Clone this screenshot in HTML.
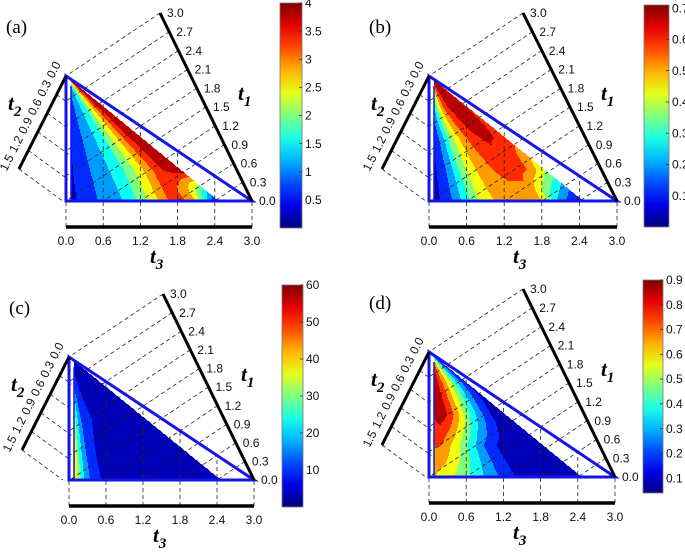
<!DOCTYPE html>
<html><head><meta charset="utf-8"><style>
html,body{margin:0;padding:0;background:#fff;}
svg{display:block;}
.tk{font-family:"Liberation Sans",Arial,sans-serif;font-size:12px;fill:#111;}
.ttl{font-family:"Liberation Serif",serif;font-size:21px;font-weight:bold;font-style:italic;fill:#000;}
.sub{font-size:15px;}
.pl{font-family:"Liberation Serif",serif;font-size:19px;fill:#000;}
</style></head><body>
<svg id="fig" width="685" height="552" viewBox="0 0 685 552" xmlns="http://www.w3.org/2000/svg"></svg>
<script>
// ---- data ----
const sGrid = [0,0.03,0.06,0.1,0.15,0.2,0.3,0.4,0.5,0.6,0.7,0.82];
const vGrid = [0,0.25,0.5,0.75,1];
const fieldA = [
 [0.3,0.35,0.45,0.55,0.8,1.0,1.3,1.9,2.7,3.5,2.6,0.2],
 [0.2,0.35,0.5,0.6,0.8,1.0,1.3,1.7,2.3,3.0,3.6,4.0],
 [0.2,0.35,0.5,0.6,0.8,1.0,1.3,1.7,2.3,3.0,3.6,4.0],
 [0.2,0.35,0.5,0.6,0.8,1.0,1.3,1.7,2.3,3.0,3.6,4.0],
 [0.2,0.35,0.5,0.6,0.8,1.0,1.3,1.7,2.3,3.0,3.6,4.0]];
const fieldB = [
 [0.02,0.03,0.08,0.12,0.2,0.28,0.45,0.5,0.5,0.47,0.2,0.02],
 [0.02,0.05,0.09,0.13,0.2,0.3,0.45,0.52,0.58,0.6,0.55,0.4],
 [0.02,0.06,0.1,0.15,0.22,0.32,0.45,0.55,0.62,0.64,0.63,0.6],
 [0.02,0.08,0.14,0.22,0.32,0.42,0.55,0.63,0.67,0.68,0.67,0.62],
 [0.02,0.08,0.14,0.22,0.32,0.42,0.55,0.63,0.67,0.68,0.67,0.62]];
const fieldC = [
 [2,40,28,15,9,4,2,2,2,2,2,2],
 [2,45,29,16,9,6,3,2,2,2,2,2],
 [2,50,30,18,10,8,5,2,2,2,2,2],
 [2,55,35,15,9,7,4,2,2,2,2,2],
 [2,55,35,15,9,7,4,2,2,2,2,2]];
const fieldD = [
 [0.6,0.62,0.58,0.55,0.5,0.45,0.32,0.2,0.1,0.05,0.03,0.02],
 [0.6,0.7,0.72,0.7,0.62,0.55,0.38,0.22,0.12,0.06,0.03,0.02],
 [0.6,0.75,0.82,0.86,0.85,0.8,0.66,0.48,0.33,0.2,0.1,0.05],
 [0.6,0.75,0.82,0.84,0.84,0.8,0.7,0.6,0.5,0.35,0.25,0.12],
 [0.6,0.75,0.82,0.84,0.84,0.8,0.7,0.6,0.5,0.35,0.25,0.12]];
const t1Ticks = ['0.0','0.3','0.6','0.9','1.2','1.5','1.8','2.1','2.4','2.7','3.0'];
const t2Ticks = ['0.0','0.3','0.6','0.9','1.2','1.5'];
const t3Ticks = ['0.0','0.6','1.2','1.8','2.4','3.0'];
const cbValsA = [0.5,1,1.5,2,2.5,3,3.5,4];
const cbLabelsA = ['0.5','1','1.5','2','2.5','3','3.5','4'];
const cbValsB = [0.1,0.2,0.3,0.4,0.5,0.6,0.7];
const cbLabelsB = ['0.1','0.2','0.3','0.4','0.5','0.6','0.7'];
const cbValsC = [10,20,30,40,50,60];
const cbLabelsC = ['10','20','30','40','50','60'];
const cbValsD = [0.1,0.2,0.3,0.4,0.5,0.6,0.7,0.8,0.9];
const cbLabelsD = ['0.1','0.2','0.3','0.4','0.5','0.6','0.7','0.8','0.9'];

const panels = [
 {id:'a',ax:66,ay:76,W:186,H:125,field:fieldA,min:0,max:4,bands:9,cb:{x:280,w:22,top:3,bot:228,min:0,max:4},cbV:cbValsA,cbL:cbLabelsA},
 {id:'b',ax:429,ay:76,W:188,H:125,field:fieldB,min:0,max:0.71,bands:9,cb:{x:644,w:25,top:5,bot:227,min:0,max:0.71},cbV:cbValsB,cbL:cbLabelsB},
 {id:'c',ax:69,ay:357,W:185,H:123,field:fieldC,min:0,max:60,bands:9,cb:{x:282,w:21,top:285,bot:507,min:0,max:60},cbV:cbValsC,cbL:cbLabelsC},
 {id:'d',ax:429,ay:352,W:186,H:125,field:fieldD,min:0.04,max:0.9,bands:9,cb:{x:643,w:20,top:280,bot:493,min:0.04,max:0.9},cbV:cbValsD,cbL:cbLabelsD}
];

const NS='http://www.w3.org/2000/svg';
const svg=document.getElementById('fig');
function mk(tag,attrs,parent){const e=document.createElementNS(NS,tag);for(const k in attrs)e.setAttribute(k,attrs[k]);(parent||svg).appendChild(e);return e;}
function jet(t){t=Math.max(0,Math.min(1,t));
 const r=Math.max(0,Math.min(1,1.5-Math.abs(4*t-3)));
 const g=Math.max(0,Math.min(1,1.5-Math.abs(4*t-2)));
 const b=Math.max(0,Math.min(1,1.5-Math.abs(4*t-1)));
 return 'rgb('+Math.round(r*255)+','+Math.round(g*255)+','+Math.round(b*255)+')';}
function interp(field,s,v){
 let i=0;while(i<vGrid.length-2&&v>vGrid[i+1])i++;
 let j=0;while(j<sGrid.length-2&&s>sGrid[j+1])j++;
 const fv=Math.max(0,Math.min(1,(v-vGrid[i])/(vGrid[i+1]-vGrid[i])));
 const fs=Math.max(0,Math.min(1,(s-sGrid[j])/(sGrid[j+1]-sGrid[j])));
 const a=field[i][j]*(1-fs)+field[i][j+1]*fs;
 const b=field[i+1][j]*(1-fs)+field[i+1][j+1]*fs;
 return a*(1-fv)+b*fv;}

panels.forEach(p=>{
 const g=mk('g',{});
 
 
 const ax=p.ax,ay=p.ay,W=p.W,H=p.H,by=ay+H,bx=ax+W;
 const fg=mk('g',{},g);
 
 
 const step=1;
 for(let y=ay;y<by;y+=step){
  const v=(by-(y+step/2))/H;
  let runStart=null,runCol=null;
  const flush=(xe)=>{if(runStart!==null&&xe>runStart){const r=mk('rect',{x:runStart,y:y,width:xe-runStart+0.3,height:step+0.3,fill:runCol},fg);}};
  let x=ax+5;
  for(;x<bx;x+=step){
   const u=(x+step/2-ax)/W;
   if(u>0.82*(1-v))break;
   const s=(1-v)>1e-3?u/(1-v):0;
   const val=interp(p.field,s,v);
   let band=Math.floor((val-p.min)/(p.max-p.min)*p.bands);
   band=Math.max(0,Math.min(p.bands-1,band));
   const col=jet((band+0.5)/p.bands);
   if(col!==runCol){flush(x);runStart=x;runCol=col;}
  }
  flush(x);
 }
 const dg=mk('g',{stroke:'#222','stroke-width':0.8,'stroke-dasharray':'4,3',fill:'none'},g);
 
 
 const T1=[ax+94,ay-63];
 const hypY=x=>ay+H*(x-ax)/W;
 t1Ticks.forEach((lab,i)=>{
  if(i===0)return;
  const f=i/(t1Ticks.length-1);
  const px=bx+f*(T1[0]-bx),py=by+f*(T1[1]-by);
  let t=(px-ax)/94; let ex=px-94*t,ey=py+63*t;
  if(ey>by){t=(by-py)/63;ex=px-94*t;ey=by;}
  const l=mk('line',{x1:px,y1:py,x2:ex,y2:ey},dg);
  
  
 });
 const T2=[ax-47,ay+93];
 t2Ticks.forEach((lab,j)=>{
  const f=j/(t2Ticks.length-1);
  const qx=ax+f*(T2[0]-ax),qy=ay+f*(T2[1]-ay);
  let ex=qx,ey=qy;
  for(let t=0;t<20;t+=0.01){const x=qx+45*t,y=qy+33*t; if(y>=by||(x>ax+2&&y>=hypY(x))){ex=x;ey=Math.min(y,by);break;} ex=x;ey=y;}
  const l=mk('line',{x1:qx,y1:qy,x2:ex,y2:ey},dg);
  
  
 });
 t3Ticks.forEach((lab,k)=>{
  const x=ax+W*k/(t3Ticks.length-1);
  const l=mk('line',{x1:x,y1:by+26,x2:x,y2:Math.min(by,hypY(x))},dg);
  
  
 });
 const tri=mk('polygon',{points:ax+','+ay+' '+ax+','+by+' '+bx+','+by,fill:'none',stroke:'#1515e8','stroke-width':3},g);
 
 
 const il=mk('line',{x1:ax+5,y1:ay+10,x2:ax+5,y2:by,stroke:'#1515e8','stroke-width':1.5},g);
 
 
 const a1=mk('line',{x1:bx,y1:by,x2:T1[0],y2:T1[1],stroke:'#000','stroke-width':3},g);
 
 
 const a2=mk('line',{x1:ax,y1:ay,x2:T2[0],y2:T2[1],stroke:'#000','stroke-width':3},g);
 
 
 const a3=mk('line',{x1:ax,y1:by+26,x2:bx,y2:by+26,stroke:'#000','stroke-width':3.5},g);
 
 
 t1Ticks.forEach((lab,i)=>{
  const f=i/(t1Ticks.length-1);
  const px=bx+f*(T1[0]-bx),py=by+f*(T1[1]-by);
  const t=mk('text',{x:px+7,y:py+1,'class':'tk','dominant-baseline':'middle'},g);t.textContent=lab;
  
  
 });
 t2Ticks.forEach((lab,j)=>{
  const f=j/(t2Ticks.length-1);
  const qx=ax+f*(T2[0]-ax)-0.89*13,qy=ay+f*(T2[1]-ay)-0.45*13;
  const t=mk('text',{x:qx,y:qy,'class':'tk','text-anchor':'middle','dominant-baseline':'middle',transform:'rotate(-63 '+qx+' '+qy+')'},g);t.textContent=lab;
  
  
 });
 t3Ticks.forEach((lab,k)=>{
  const x=ax+W*k/(t3Ticks.length-1);
  const t=mk('text',{x:x,y:by+44,'class':'tk','text-anchor':'middle'},g);t.textContent=lab;
  
  
 });
 function title(x,y,sub,name){const t=mk('text',{x:x,y:y,'class':'ttl'},g);
  
  
  const a=mk('tspan',{},t);a.textContent='t';
  const b=mk('tspan',{'class':'sub',dy:6},t);b.textContent=sub;}
 title(ax+172,ay+24,'1','t1-axis-title');
 title(ax-58,ay+34,'2','t2-axis-title');
 title(ax+84,by+62,'3','t3-axis-title');
 const pl=mk('text',{x:ax-60,y:ay-43,'class':'pl'},g);pl.textContent='('+p.id+')';
 
 
 const cb=p.cb;
 const gid='grad'+p.id;
 const defs=mk('defs',{},g);
 const lg=mk('linearGradient',{id:gid,x1:0,y1:1,x2:0,y2:0},defs);
 for(let k=0;k<=10;k++){mk('stop',{offset:k/10,'stop-color':jet(k/10)},lg);}
 const cr=mk('rect',{x:cb.x,y:cb.top,width:cb.w,height:cb.bot-cb.top,fill:'url(#'+gid+')',stroke:'#777','stroke-width':0.8},g);
 
 
 p.cbV.forEach((val,k)=>{
  const y=cb.bot-(val-cb.min)/(cb.max-cb.min)*(cb.bot-cb.top);
  const tl=mk('line',{x1:cb.x+cb.w-3,y1:y,x2:cb.x+cb.w,y2:y,stroke:'#333','stroke-width':0.8},g);
  
  
  const t=mk('text',{x:cb.x+cb.w+3,y:y+1,'class':'tk','dominant-baseline':'middle'},g);t.textContent=p.cbL[k];
  
  
 });
});
</script>
</body></html>
